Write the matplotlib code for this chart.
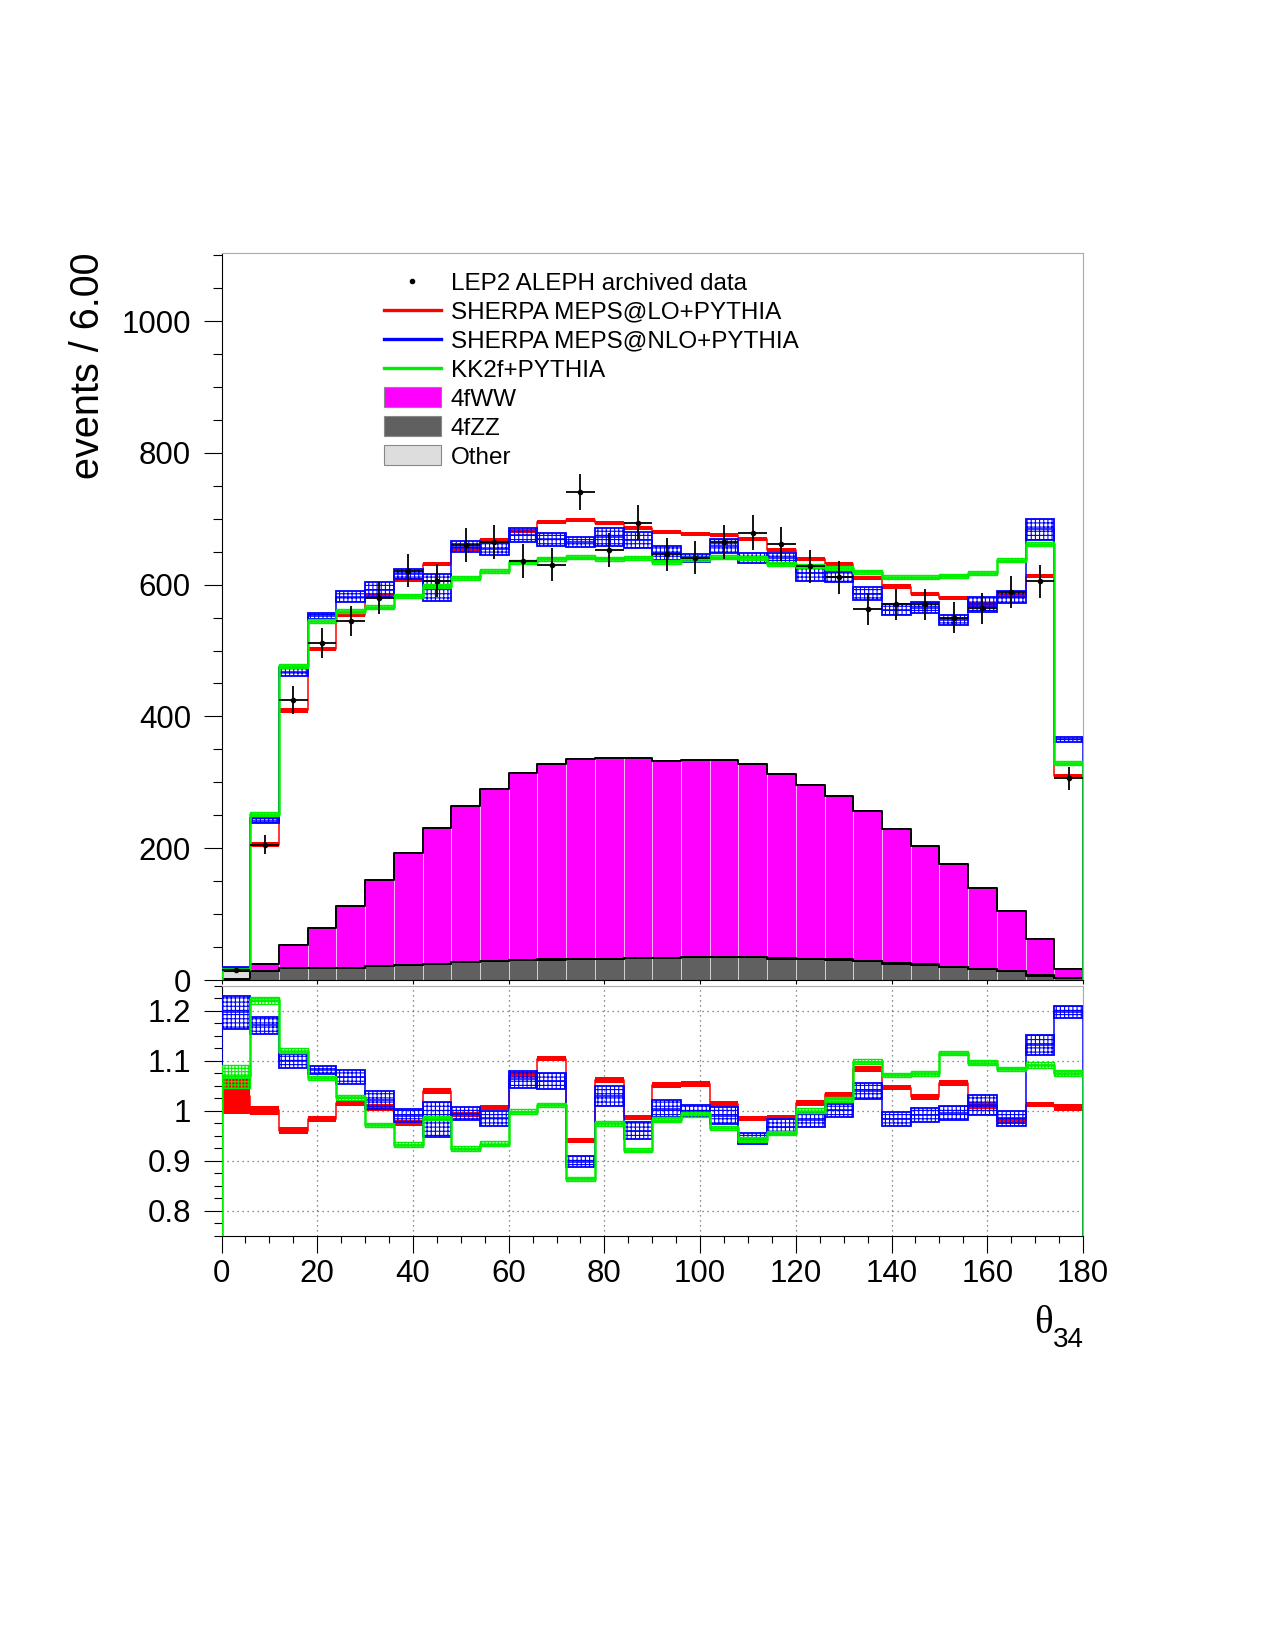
import numpy as np
import matplotlib
matplotlib.use("Agg")
import matplotlib.pyplot as plt
from matplotlib.lines import Line2D
from matplotlib.patches import Patch
from matplotlib.ticker import MultipleLocator, FixedLocator

plt.rcParams['font.family'] = ['Liberation Sans', 'DejaVu Sans']
plt.rcParams['hatch.linewidth'] = 0.8

# ---------------- data ----------------
bin_edges = np.arange(0, 181, 6)

data = [15, 205, 425, 511, 545, 580, 621, 606, 660, 664, 636, 630, 741, 653, 694,
        646, 641, 665, 679, 661, 628, 611, 563, 570, 570, 550, 564, 589, 605, 306]
data_err = [3.9, 14.3, 20.6, 22.6, 23.3, 24.1, 24.9, 24.6, 25.7, 25.8, 25.2, 25.1, 27.2, 25.6, 26.3,
            25.4, 25.3, 25.8, 26.1, 25.7, 25.1, 24.7, 23.7, 23.9, 23.9, 23.5, 23.7, 24.3, 24.6, 17.5]

sherpa_lo = [15.5, 205.6, 409, 502.5, 554.5, 583, 606.6, 630.8, 654, 668, 681.8, 695.5, 697.5, 693, 686,
             679.8, 677, 675.8, 668.7, 653, 638.6, 631.8, 610, 597, 585.3, 580, 569.7, 582.8, 612.6, 309]
sherpa_lo_err = [0.6] + [3.2] * 29

sherpa_nlo = [18, 242, 467.7, 552.5, 581.8, 592, 616, 595.5, 657.6, 654, 676, 668.7, 665, 672.7, 668,
              648, 640.4, 658.6, 641, 641, 617, 611.6, 586.4, 561.6, 565, 547, 570, 580.8, 684, 365]
sherpa_nlo_err = [1.5, 4.5, 6.6, 4.5, 8.3, 11.4, 7.8, 20.7, 8.3, 8.6, 10.6, 9.6, 7.6, 13.4, 12.6,
                  10.9, 6.8, 10.9, 7.6, 7.6, 11.4, 8.1, 9.6, 8.3, 8.3, 7.6, 11.1, 8.8, 15.7, 4.0]

kk2f = [16.5, 252, 477, 545, 560, 565.7, 583, 598, 610.6, 620.7, 634.8, 639, 641.4, 638.6, 641,
        634.8, 638.6, 642, 641, 631.8, 628, 624.7, 619, 611, 612, 613, 618, 638, 662, 329]
kk2f_err = [0.4] + [3.0] * 29

ww = [0.3, 10.4, 34.3, 60.3, 93.9, 131.5, 169.3, 205.3, 236.3, 261.2, 283.7, 296.5, 303, 304.6, 303.1,
      299.7, 298.4, 299.3, 293, 279.8, 264.5, 248.5, 228.2, 203.6, 179.3, 155.6, 123.9, 90.9, 54.6, 14.2]
zz = [2, 13.3, 18.4, 18.4, 18.4, 20.7, 22.4, 24.4, 27, 28.5, 30, 31, 31.5, 31.5, 33,
      33, 35.1, 34.7, 34.5, 32.5, 31.7, 31, 28.5, 25, 23.5, 20, 16, 13, 6.8, 2.8]
other = [12] + [0.3] * 27 + [0.2, 0.2]

# ratio MC / data
lo_ratio = [1.029, 1.001, 0.96, 0.983, 1.016, 1.007, 0.976, 1.039, 0.992, 1.007, 1.072, 1.104, 0.94, 1.061, 0.987,
            1.051, 1.054, 1.014, 0.984, 0.987, 1.016, 1.033, 1.083, 1.046, 1.027, 1.055, 1.01, 0.98, 1.012, 1.007]
lo_ratio_err = [0.035, 0.009, 0.007, 0.006, 0.006, 0.007, 0.006, 0.006, 0.005, 0.005, 0.005, 0.005, 0.005, 0.006, 0.005,
                0.006, 0.006, 0.006, 0.005, 0.005, 0.006, 0.005, 0.006, 0.005, 0.006, 0.006, 0.007, 0.006, 0.005, 0.007]
nlo_ratio = [1.197, 1.171, 1.099, 1.081, 1.067, 1.021, 0.99, 0.982, 0.994, 0.985, 1.063, 1.059, 0.898, 1.03, 0.96,
             1.004, 0.999, 0.99, 0.944, 0.968, 0.982, 1.001, 1.039, 0.984, 0.991, 0.996, 1.012, 0.985, 1.132, 1.198]
nlo_ratio_err = [0.033, 0.017, 0.014, 0.008, 0.014, 0.018, 0.013, 0.035, 0.013, 0.015, 0.017, 0.016, 0.011, 0.02, 0.017,
                 0.017, 0.012, 0.017, 0.011, 0.015, 0.015, 0.013, 0.016, 0.014, 0.014, 0.014, 0.02, 0.015, 0.02, 0.012]
kk_ratio = [1.069, 1.221, 1.12, 1.066, 1.027, 0.972, 0.932, 0.986, 0.924, 0.934, 0.998, 1.011, 0.863, 0.975, 0.921,
            0.982, 0.993, 0.966, 0.942, 0.956, 1.0, 1.023, 1.098, 1.072, 1.075, 1.116, 1.096, 1.084, 1.092, 1.076]
kk_ratio_err = [0.023, 0.007, 0.005, 0.004, 0.005, 0.004, 0.005, 0.004, 0.005, 0.005, 0.005, 0.004, 0.004, 0.005, 0.004,
                0.005, 0.005, 0.004, 0.005, 0.004, 0.005, 0.005, 0.005, 0.004, 0.005, 0.004, 0.005, 0.004, 0.006, 0.006]

labels = ["LEP2 ALEPH archived data", "SHERPA MEPS@LO+PYTHIA", "SHERPA MEPS@NLO+PYTHIA",
          "KK2f+PYTHIA", "4fWW", "4fZZ", "Other"]

RED = '#ff0000'
BLUE = '#0000ff'
GREEN = '#00ee00'
MAGENTA = '#ff00ff'
DGREY = '#606060'
LGREY = '#dddddd'

edges = np.asarray(bin_edges, float)
centers = 0.5 * (edges[:-1] + edges[1:])
width = np.diff(edges)


def step_xy(vals, base=0.0):
    v = np.asarray(vals, float)
    x = np.concatenate([[edges[0]], np.repeat(edges, 2)[1:-1], [edges[-1]]])
    y = np.concatenate([[base], np.repeat(v, 2), [base]])
    return x, y


W, H = 1275, 1650
fig = plt.figure(figsize=(W / 100, H / 100), dpi=100)
x0, x1 = 221.5, 1083.0
ax = fig.add_axes([x0 / W, 1 - 980 / H, (x1 - x0) / W, (980 - 252.5) / H])
rax = fig.add_axes([x0 / W, 1 - 1236 / H, (x1 - x0) / W, (1236 - 985.5) / H])

# ---------------- main panel ----------------
zz_a = np.asarray(zz, float)
oth_a = np.asarray(other, float)
ww_a = np.asarray(ww, float)
lvl1 = zz_a
lvl2 = zz_a + oth_a
lvl3 = lvl2 + ww_a
edge_light = (1, 1, 1, 0.55)
ax.bar(centers, zz_a, width=width, bottom=0, color=DGREY, edgecolor=edge_light, lw=0.7, zorder=1)
ax.bar(centers, oth_a, width=width, bottom=lvl1, color=LGREY, edgecolor=edge_light, lw=0.7, zorder=1)
ax.bar(centers, ww_a, width=width, bottom=lvl2, color=MAGENTA, edgecolor=edge_light, lw=0.7, zorder=1)
for lv in (lvl1, lvl2, lvl3):
    sx, sy = step_xy(lv)
    ax.plot(sx, sy, color='black', lw=1.4, zorder=2)


def draw_mc(a, vals, errs, kind, zbase):
    v = np.asarray(vals, float)
    e = np.asarray(errs, float)
    if kind == 'red':
        a.bar(centers, 2 * e, width=width, bottom=v - e, color=RED, lw=0, zorder=zbase)
        sx, sy = step_xy(v)
        a.plot(sx, sy, color=RED, lw=1.1, zorder=zbase + 0.1)
    elif kind == 'blue':
        a.bar(centers, 2 * e, width=width, bottom=v - e, facecolor='none', edgecolor=BLUE,
              hatch='++++', lw=1.3, zorder=zbase)
        sx, sy = step_xy(v)
        a.plot(sx, sy, color=BLUE, lw=1.1, zorder=zbase + 0.1)
    else:
        a.bar(centers, 2 * e, width=width, bottom=v - e, facecolor='none', edgecolor=GREEN,
              hatch='+++++', lw=1.0, zorder=zbase)
        sx, sy = step_xy(v)
        a.plot(sx, sy, color=GREEN, lw=1.8, zorder=zbase + 0.1)


draw_mc(ax, sherpa_lo, sherpa_lo_err, 'red', 3)
draw_mc(ax, sherpa_nlo, sherpa_nlo_err, 'blue', 4)
draw_mc(ax, kk2f, kk2f_err, 'green', 5)

ax.errorbar(centers, data, yerr=data_err, xerr=width / 2, fmt='o', ms=3, color='black',
            lw=1.3, capsize=0, zorder=7)

ax.set_xlim(0, 180)
ax.set_ylim(0, 1104)
ax.yaxis.set_major_locator(MultipleLocator(200))
ax.yaxis.set_minor_locator(MultipleLocator(50))
ax.xaxis.set_major_locator(MultipleLocator(20))
ax.tick_params(axis='y', which='major', direction='out', length=13, width=0.8, labelsize=22.5, pad=9)
ax.tick_params(axis='y', which='minor', direction='out', length=6.5, width=0.8)
ax.tick_params(axis='x', which='major', direction='out', length=3, width=0.8, labelbottom=False)
for s in ('top', 'right'):
    ax.spines[s].set_color('#aaaaaa')
for s in ('left', 'bottom'):
    ax.spines[s].set_color('black')

handles = [
    Line2D([], [], marker='o', ms=3, ls='none', color='black'),
    Line2D([], [], color=RED, lw=2.4),
    Line2D([], [], color=BLUE, lw=2.4),
    Line2D([], [], color=GREEN, lw=2.4),
    Patch(facecolor=MAGENTA, edgecolor='#888888', lw=0.8),
    Patch(facecolor=DGREY, edgecolor='#888888', lw=0.8),
    Patch(facecolor=LGREY, edgecolor='#888888', lw=0.8),
]
ax.legend(handles, labels, loc='upper left', bbox_to_anchor=(383.5 / W, 1 - 271.5 / H),
          bbox_transform=fig.transFigure, frameon=False, fontsize=17.5, borderpad=0,
          borderaxespad=0, handlelength=2.36, handleheight=0.87, handletextpad=0.4,
          labelspacing=0.235, numpoints=1)

# ---------------- ratio panel ----------------
draw_mc(rax, lo_ratio, lo_ratio_err, 'red', 3)
draw_mc(rax, nlo_ratio, nlo_ratio_err, 'blue', 4)
draw_mc(rax, kk_ratio, kk_ratio_err, 'green', 5)

rax.set_xlim(0, 180)
rax.set_ylim(0.75, 1.25)
rax.yaxis.set_major_locator(FixedLocator([0.8, 0.9, 1.0, 1.1, 1.2]))
rax.set_yticklabels(['0.8', '0.9', '1', '1.1', '1.2'])
rax.yaxis.set_minor_locator(MultipleLocator(0.025))
rax.xaxis.set_major_locator(MultipleLocator(20))
rax.xaxis.set_minor_locator(MultipleLocator(5))
rax.tick_params(axis='y', which='major', direction='out', length=13, width=0.8, labelsize=22.5, pad=9)
rax.tick_params(axis='y', which='minor', direction='out', length=6, width=0.8)
rax.tick_params(axis='x', which='major', direction='out', length=12, width=0.8, labelsize=22.5, pad=4.5)
rax.tick_params(axis='x', which='minor', direction='out', length=5.3, width=0.8)
rax.grid(True, which='major', ls=(0, (1, 3)), color='#666666', lw=0.9, zorder=0)
rax.set_axisbelow(True)
for s in ('top', 'right'):
    rax.spines[s].set_color('#aaaaaa')

# ---------------- axis titles ----------------
fig.text(88 / W, 1 - 252.5 / H, 'events / 6.00', rotation=90, ha='center', va='top', fontsize=28.5)
fig.text(1053 / W, 1 - 1333 / H, 'θ', family=['Liberation Serif', 'DejaVu Serif'], fontsize=28,
         ha='right', va='baseline')
fig.text(1053 / W, 1 - 1347 / H, '34', fontsize=20, ha='left', va='baseline')

fig.savefig('out.png', dpi=100)
